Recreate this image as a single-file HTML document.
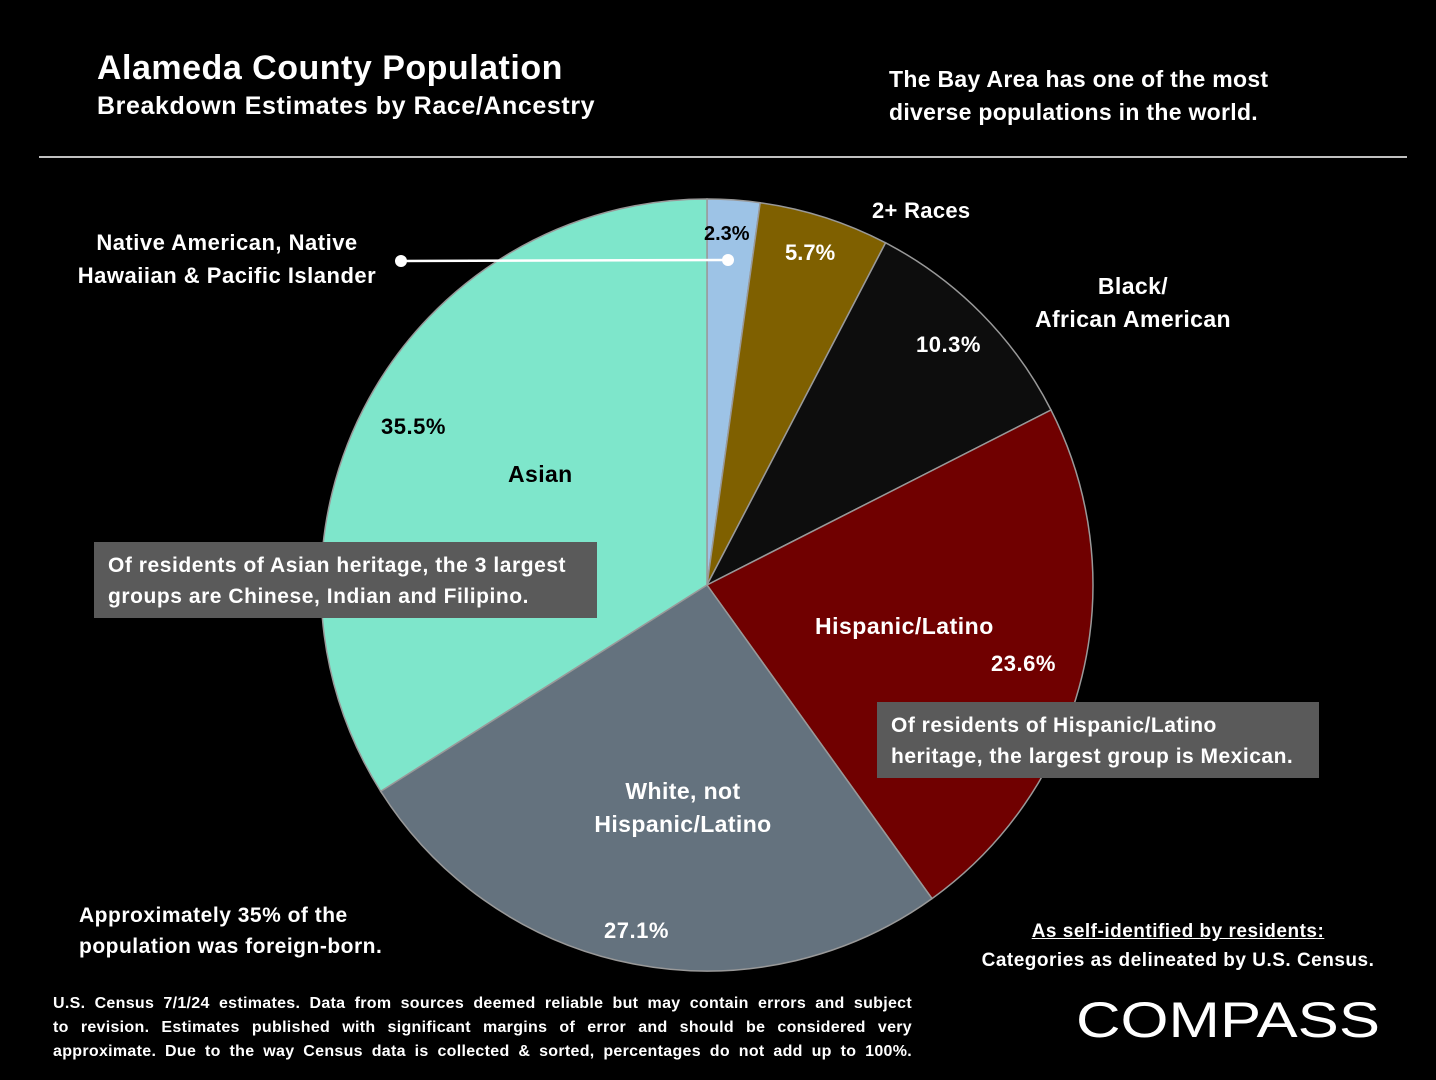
<!DOCTYPE html>
<html><head><meta charset="utf-8"><style>
html,body{margin:0;padding:0;background:#000;}
body{width:1436px;height:1080px;position:relative;overflow:hidden;font-family:"Liberation Sans",sans-serif;font-weight:bold;color:#fff;}
.t{position:absolute;white-space:nowrap;}
.fn{position:absolute;left:53px;width:859px;font-size:16px;line-height:24px;text-align:justify;text-align-last:justify;letter-spacing:0.3px;white-space:normal;}
</style></head><body>
<svg width="1436" height="1080" style="position:absolute;left:0;top:0">
<line x1="39" y1="157" x2="1407" y2="157" stroke="#fff" stroke-width="1.5"/>
<g stroke="#999" stroke-width="1.5">
<path d="M707,585 L707,199 A386,386 0 0 1 760.2,202.7 Z" fill="#9dc3e6"/>
<path d="M707,585 L760.2,202.7 A386,386 0 0 1 885.6,242.8 Z" fill="#7f6000"/>
<path d="M707,585 L885.6,242.8 A386,386 0 0 1 1051,410 Z" fill="#0d0d0d"/>
<path d="M707,585 L1051,410 A386,386 0 0 1 932,898.6 Z" fill="#700000"/>
<path d="M707,585 L932,898.6 A386,386 0 0 1 380.7,791.3 Z" fill="#64727e"/>
<path d="M707,585 L380.7,791.3 A386,386 0 0 1 707,199 Z" fill="#7ee6cb"/>
</g>
<line x1="401" y1="261" x2="728" y2="260" stroke="#fff" stroke-width="2.5"/>
<circle cx="401" cy="261" r="6" fill="#fff"/>
<circle cx="728" cy="260" r="6" fill="#fff"/>
<rect x="94" y="542" width="503" height="76" fill="#5a5a5a"/>
<rect x="877" y="702" width="442" height="76" fill="#5a5a5a"/>
<text x="1076" y="1037" fill="#fff" font-family="Liberation Sans,sans-serif" font-weight="normal" font-size="50" textLength="304" lengthAdjust="spacingAndGlyphs">COMPASS</text>
</svg>
<div class="t" style="left:97px;top:49px;font-size:34px;letter-spacing:0.5px;">Alameda County Population</div>
<div class="t" style="left:97px;top:92px;font-size:25px;letter-spacing:0.6px;">Breakdown Estimates by Race/Ancestry</div>
<div class="t" style="left:889px;top:63px;font-size:23px;line-height:33px;letter-spacing:0.3px;">The Bay Area has one of the most<br>diverse populations in the world.</div>
<div class="t" style="left:60px;top:226px;font-size:22px;line-height:33px;text-align:center;width:334px;letter-spacing:0.5px;">Native American, Native<br>Hawaiian &amp; Pacific Islander</div>
<div class="t" style="left:704px;top:223px;font-size:20px;color:#000;">2.3%</div>
<div class="t" style="left:785px;top:240px;font-size:22px;">5.7%</div>
<div class="t" style="left:872px;top:198px;font-size:22px;letter-spacing:0.3px;">2+ Races</div>
<div class="t" style="left:1023px;top:270px;font-size:23px;line-height:33px;text-align:center;width:220px;letter-spacing:0.4px;">Black/<br>African American</div>
<div class="t" style="left:916px;top:332px;font-size:22px;letter-spacing:0.5px;">10.3%</div>
<div class="t" style="left:381px;top:414px;font-size:22px;color:#000;letter-spacing:0.5px;">35.5%</div>
<div class="t" style="left:508px;top:461px;font-size:23px;color:#000;letter-spacing:0.4px;">Asian</div>
<div class="t" style="left:108px;top:550px;font-size:21px;line-height:31px;letter-spacing:0.55px;">Of residents of Asian heritage, the 3 largest<br>groups are Chinese, Indian and Filipino.</div>
<div class="t" style="left:815px;top:613px;font-size:23px;letter-spacing:0.5px;">Hispanic/Latino</div>
<div class="t" style="left:991px;top:651px;font-size:22px;letter-spacing:0.5px;">23.6%</div>
<div class="t" style="left:891px;top:710px;font-size:21px;line-height:31px;letter-spacing:0.5px;">Of residents of Hispanic/Latino<br>heritage, the largest group is Mexican.</div>
<div class="t" style="left:573px;top:775px;font-size:23px;line-height:33px;text-align:center;width:220px;letter-spacing:0.4px;">White, not<br>Hispanic/Latino</div>
<div class="t" style="left:604px;top:918px;font-size:22px;letter-spacing:0.5px;">27.1%</div>
<div class="t" style="left:79px;top:900px;font-size:21px;line-height:31px;letter-spacing:0.5px;">Approximately 35% of the<br>population was foreign-born.</div>
<div class="t" style="left:968px;top:917px;font-size:19px;line-height:29px;text-align:center;width:420px;letter-spacing:0.5px;"><u>As self-identified by residents:</u><br>Categories as delineated by U.S. Census.</div>
<div class="fn" style="top:992px;">U.S. Census 7/1/24 estimates. Data from sources deemed reliable but may contain errors and subject</div>
<div class="fn" style="top:1016px;">to revision. Estimates published with significant margins of error and should be considered very</div>
<div class="fn" style="top:1040px;">approximate. Due to the way Census data is collected &amp; sorted, percentages do not add up to 100%.</div>
</body></html>
